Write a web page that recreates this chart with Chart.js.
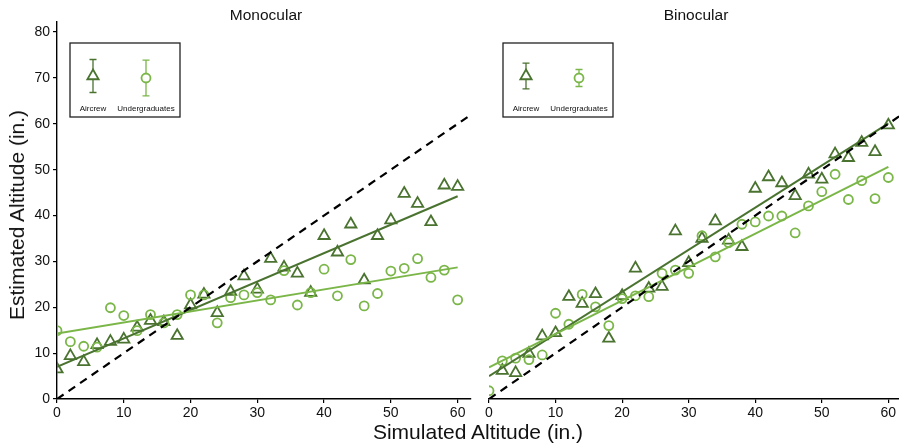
<!DOCTYPE html>
<html>
<head>
<meta charset="utf-8">
<script src="https://cdn.jsdelivr.net/npm/chart.js@4/dist/chart.umd.min.js"></script>
<style>
  html, body { margin: 0; padding: 0; background: #fff; }
  #wrap { position: relative; width: 899px; height: 446px; overflow: hidden; font-family: "Liberation Sans", Arial, sans-serif; color: #111; }
  canvas { position: absolute; top: 0; }
  .lbl { position: absolute; white-space: nowrap; transform: translate(-50%, -50%); }
</style>
</head>
<body>
<div id="wrap">
  <canvas id="monoChart" width="476" height="446" style="left:0"></canvas>
  <canvas id="binoChart" width="423" height="446" style="left:476px"></canvas>
  <div class="lbl" style="left:266px; top:15px; font-size:15.5px;">Monocular</div>
  <div class="lbl" style="left:696px; top:15px; font-size:15.5px;">Binocular</div>
  <div class="lbl" style="left:478px; top:432px; font-size:21px;">Simulated Altitude (in.)</div>
  <div class="lbl" style="left:17px; top:215px; font-size:21px; transform: translate(-50%, -50%) rotate(-90deg);">Estimated Altitude (in.)</div>
</div>
<script>
// simulated altitude (x) for every trial
const altitudes = [0, 2, 4, 6, 8, 10, 12, 14, 16, 18, 20, 22, 24, 26, 28, 30,
  32, 34, 36, 38, 40, 42, 44, 46, 48, 50, 52, 54, 56, 58, 60];

// Monocular estimates
const monoAircrew = [6.5, 9.4, 8.1, 11.8, 12.5, 13.0, 15.6, 17.1, 16.8, 13.8, 20.5, 22.8, 18.8, 23.4, 26.8, 23.9,
  30.6, 28.7, 27.4, 23.2, 35.6, 32.0, 38.1, 25.9, 35.6, 39.0, 44.8, 42.6, 38.6, 46.6, 46.3];
const monoUnder = [14.9, 12.5, 11.5, 11.3, 19.9, 18.2, 14.9, 18.4, 16.6, 18.4, 22.7, 22.7, 16.6, 22.1, 22.7, 23.2,
  21.6, 28.0, 20.5, 23.2, 28.3, 22.5, 30.4, 20.3, 23.0, 27.9, 28.5, 30.6, 26.5, 28.1, 21.6];

// Binocular estimates
const binoAircrew = [null, 6.2, 5.7, 9.9, 13.7, 14.4, 22.3, 20.8, 22.9, 13.2, 22.5, 28.5, 24.1, 24.5, 36.6, 29.7,
  35.0, 38.8, 34.6, 33.2, 45.9, 48.4, 47.1, 44.3, 49.0, 47.9, 53.4, 52.6, 55.9, 53.9, 59.7];
const binoUnder = [1.8, 8.3, 8.9, 8.6, 9.6, 18.7, 16.3, 22.8, 20.1, 16.0, 21.9, 22.5, 22.3, 27.4, 28.1, 27.4,
  35.6, 31.0, 34.1, 38.1, 38.6, 39.9, 39.9, 36.2, 42.1, 45.2, 49.0, 43.5, 47.6, 43.7, 48.3];

// fitted lines, value at x = 0 and x = 60
const fitX = [0, 60];
const monoFitAircrew = [7.0, 44.2];
const monoFitUnder = [14.3, 28.7];
const binoFitAircrew = [5.0, 60.1];
const binoFitUnder = [6.9, 50.6];

// perfect estimate line
const identityX = [0, 62];
const identityY = [0, 62];

// legend error bars (half length, in.)  [aircrew, undergraduates]
const monoLegendErr = [3.6, 3.9];
const binoLegendErr = [2.8, 1.85];

const groupNames = ['Aircrew', 'Undergraduates'];
const xTicks = [0, 10, 20, 30, 40, 50, 60];
const yTicks = [0, 10, 20, 30, 40, 50, 60, 70, 80];

const darkGreen = '#4a7330';
const lightGreen = '#7ab648';
const fontFamily = '"Liberation Sans", Arial, sans-serif';

function pts(xs, ys) {
  return xs.map((x, i) => ({ x: x, y: ys[i] }));
}

// boxed legend with error bar glyphs, drawn in the upper left of the plot
function legendPlugin(errs, dx) {
  return {
    id: 'errLegend',
    afterDraw(chart) {
      const ctx = chart.ctx;
      const area = chart.chartArea;
      const yScale = chart.scales.y;
      const unit = yScale.getPixelForValue(0) - yScale.getPixelForValue(1);
      const bx = area.left + dx, by = area.top + 21, bw = 110, bh = 74;
      ctx.save();
      ctx.strokeStyle = '#222';
      ctx.lineWidth = 1.3;
      ctx.strokeRect(bx, by, bw, bh);

      const cols = [bx + 23, bx + 76];
      const colors = [darkGreen, lightGreen];
      const cy = [by + 33, by + 35];
      for (let i = 0; i < 2; i++) {
        const x = cols[i];
        const half = errs[i] * unit;
        ctx.strokeStyle = colors[i];
        ctx.lineWidth = 1.3;
        ctx.beginPath();
        ctx.moveTo(x, cy[i] - half); ctx.lineTo(x, cy[i] + half);
        ctx.moveTo(x - 3.5, cy[i] - half); ctx.lineTo(x + 3.5, cy[i] - half);
        ctx.moveTo(x - 3.5, cy[i] + half); ctx.lineTo(x + 3.5, cy[i] + half);
        ctx.stroke();
        ctx.lineWidth = 1.8;
        ctx.fillStyle = '#fff';
        ctx.beginPath();
        if (i === 0) {
          const r = 6.5;
          ctx.moveTo(x, cy[i] - r);
          ctx.lineTo(x + r * 0.866, cy[i] + r / 2);
          ctx.lineTo(x - r * 0.866, cy[i] + r / 2);
          ctx.closePath();
        } else {
          ctx.arc(x, cy[i], 4.5, 0, Math.PI * 2);
        }
        ctx.fill();
        ctx.stroke();
        ctx.fillStyle = '#111';
        ctx.font = '8px ' + fontFamily;
        ctx.textAlign = 'center';
        ctx.textBaseline = 'middle';
        ctx.fillText(groupNames[i], x, by + 66);
      }
      ctx.restore();
    }
  };
}

function makeDatasets(aircrew, under, fitA, fitU) {
  return [
    {
      label: 'Aircrew', data: pts(altitudes, aircrew), showLine: false,
      pointStyle: 'triangle', pointRadius: 6.5, pointBorderWidth: 1.8,
      pointBorderColor: darkGreen, pointBackgroundColor: 'rgba(0,0,0,0)', order: 5
    },
    {
      label: 'Undergraduates', data: pts(altitudes, under), showLine: false,
      pointStyle: 'circle', pointRadius: 4.5, pointBorderWidth: 1.8,
      pointBorderColor: lightGreen, pointBackgroundColor: 'rgba(0,0,0,0)', order: 4
    },
    {
      label: 'Aircrew fit', data: pts(fitX, fitA), showLine: true,
      borderColor: darkGreen, borderWidth: 2, pointRadius: 0, order: 3
    },
    {
      label: 'Undergraduates fit', data: pts(fitX, fitU), showLine: true,
      borderColor: lightGreen, borderWidth: 2, pointRadius: 0, order: 2
    },
    {
      label: 'Identity', data: pts(identityX, identityY), showLine: true,
      borderColor: '#000', borderWidth: 2.2, borderDash: [8, 6], pointRadius: 0, order: 1
    }
  ];
}

function keepTicks(list) {
  return (scale) => {
    scale.ticks = list.map(v => ({ value: v }));
  };
}

function makeOptions(xMax, showY, padLeft, padRight) {
  const tickFont = { family: fontFamily, size: 14 };
  return {
    responsive: false,
    animation: false,
    devicePixelRatio: 1,
    layout: { autoPadding: false, padding: { top: 22, right: padRight, bottom: 0, left: padLeft } },
    plugins: { legend: { display: false }, tooltip: { enabled: false }, title: { display: false } },
    scales: {
      x: {
        type: 'linear', min: 0, max: xMax,
        afterBuildTicks: keepTicks(xTicks),
        afterFit: (scale) => { scale.height = 47; scale.paddingLeft = 0; scale.paddingRight = 0; },
        grid: { drawOnChartArea: false, drawTicks: true, tickLength: 4, color: '#000', lineWidth: 1.2 },
        border: { display: true, color: '#000', width: 1.4 },
        ticks: { color: '#111', font: tickFont, padding: 2, maxRotation: 0 }
      },
      y: {
        type: 'linear', min: 0, max: 82.2, display: showY,
        afterBuildTicks: keepTicks(yTicks),
        afterFit: (scale) => { scale.width = showY ? 57 : 0; },
        grid: { drawOnChartArea: false, drawTicks: true, tickLength: 4, color: '#000', lineWidth: 1.2 },
        border: { display: true, color: '#000', width: 1.4 },
        ticks: { color: '#111', font: tickFont, padding: 3 }
      }
    }
  };
}

new Chart(document.getElementById('monoChart').getContext('2d'), {
  type: 'scatter',
  data: { datasets: makeDatasets(monoAircrew, monoUnder, monoFitAircrew, monoFitUnder) },
  options: makeOptions(62, true, 0, 5),
  plugins: [legendPlugin(monoLegendErr, 13)]
});

new Chart(document.getElementById('binoChart').getContext('2d'), {
  type: 'scatter',
  data: { datasets: makeDatasets(binoAircrew, binoUnder, binoFitAircrew, binoFitUnder) },
  options: makeOptions(61.6, false, 13, 0),
  plugins: [legendPlugin(binoLegendErr, 14)]
});
</script>
</body>
</html>
